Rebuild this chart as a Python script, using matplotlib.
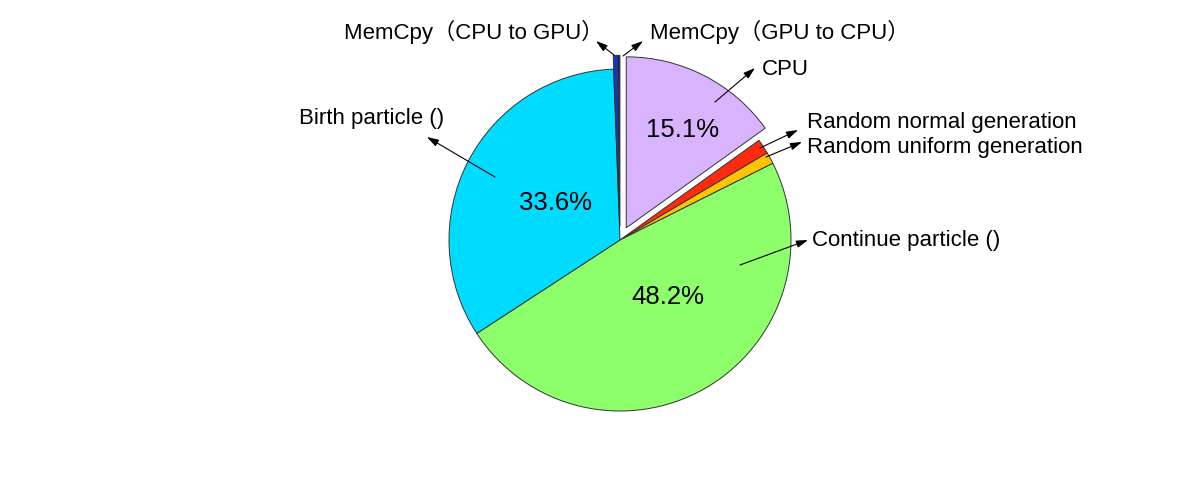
import matplotlib
matplotlib.use("Agg")
import matplotlib.pyplot as plt

# --- data ---
labels = ["CPU", "Random normal generation", "Random uniform generation",
          "Continue particle ()", "Birth particle ()",
          "MemCpy（CPU to GPU）", "MemCpy（GPU to CPU）"]
shares = [15.1, 1.4, 1.1, 48.2, 33.6, 0.4, 0.2]
colors = ["#D8B4FE", "#FF2A10", "#FFC400", "#8CFF6A", "#00DCFF", "#1436C8", "#0A1E80"]
pulled_out = [True, False, False, False, False, True, True]

W, H = 1200, 501
R = 171
FONT = ["Liberation Sans", "Noto Sans CJK SC", "DejaVu Sans"]


def px(x, y):
    # picture pixel -> data coords (y up)
    return (x, H - y)


# label layout: arrow tail, arrow head, text anchor, alignment (pixels)
layout = {
    "CPU": ((715, 102), (755, 68), (762, 69), "left"),
    "Random normal generation": ((760, 148), (798, 130), (807, 122), "left"),
    "Random uniform generation": ((766, 157), (802, 142), (807, 147), "left"),
    "Continue particle ()": ((740, 265), (808, 240), (812, 240), "left"),
    "Birth particle ()": ((495, 177), (427, 137), (444, 118), "right"),
    "MemCpy（CPU to GPU）": ((614, 55), (596, 41), (603, 32), "right"),
    "MemCpy（GPU to CPU）": ((623, 56), (643, 41), (650, 32), "left"),
}
pct_pos = {"CPU": (683, 130), "Continue particle ()": (668, 297), "Birth particle ()": (556, 203)}

fig = plt.figure(figsize=(W / 100, H / 100), dpi=100)
ax = fig.add_axes([0, 0, 1, 1])

# matplotlib's explode offset is in data units, so scale it by the radius
explode = [0.08 * R if p else 0 for p in pulled_out]
wedges, _ = ax.pie(shares, colors=colors, explode=explode, startangle=90,
                   counterclock=False, radius=R, center=px(620, 240),
                   wedgeprops=dict(edgecolor="#333333", linewidth=0.7),
                   frame=True)
ax.set_xlim(0, W)
ax.set_ylim(0, H)
ax.axis("off")

for lab, val in zip(labels, shares):
    tail, head, tpos, ha = layout[lab]
    ax.annotate("", xy=px(*head), xytext=px(*tail),
                arrowprops=dict(arrowstyle="-|>,head_length=0.7,head_width=0.22",
                                color="black", lw=0.8, shrinkA=0, shrinkB=0))
    ax.text(*px(*tpos), lab, ha=ha, va="center", fontsize=16, family=FONT)
    if lab in pct_pos:
        ax.text(*px(*pct_pos[lab]), f"{val:.1f}%", ha="center", va="center",
                fontsize=18.5, family=FONT)

fig.savefig("out.png", dpi=100)
